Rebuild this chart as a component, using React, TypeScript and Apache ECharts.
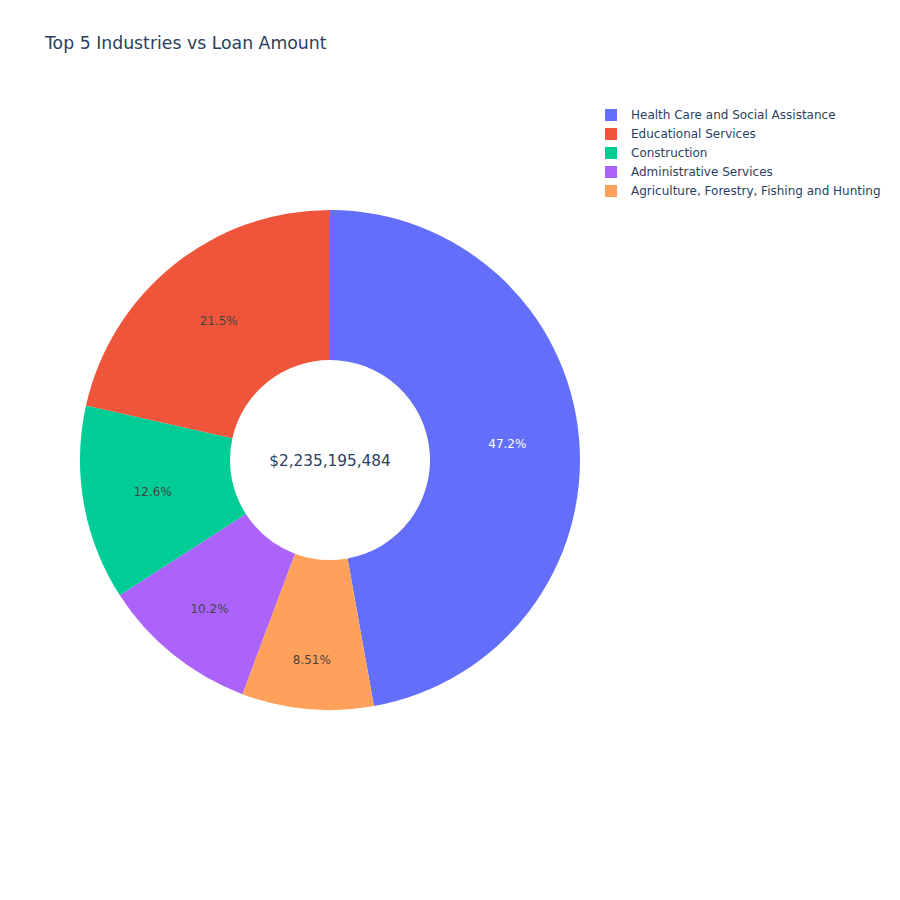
import React, { useEffect, useRef } from "react";
import * as echarts from "echarts";

const categories = [
  "Health Care and Social Assistance",
  "Educational Services",
  "Construction",
  "Administrative Services",
  "Agriculture, Forestry, Fishing and Hunting",
];
const loanAmounts = [1054788749, 480567029, 281634631, 227989939, 190215136];
const colors = ["#636efa", "#EF553B", "#00cc96", "#ab63fa", "#FFA15A"];
const labelColors = ["#ffffff", "#444444", "#444444", "#444444", "#444444"];
// order in which slices are laid out clockwise from 12 o'clock
const sliceOrder = [0, 4, 3, 2, 1];

const FONT = '"DejaVu Sans", verdana, arial, sans-serif';
const CX = 330;
const CY = 460;

export default function App() {
  const ref = useRef<HTMLDivElement>(null);
  useEffect(() => {
    if (!ref.current) return;
    const chart = echarts.init(ref.current, null, { renderer: "svg" });
    const total = loanAmounts.reduce((a, b) => a + b, 0);
    const sliceData = sliceOrder.map((i) => ({
      name: categories[i],
      value: loanAmounts[i],
      itemStyle: { color: colors[i] },
      label: { color: labelColors[i] },
    }));
    chart.setOption({
      animation: false,
      backgroundColor: "#ffffff",
      textStyle: { fontFamily: FONT },
      title: {
        text: "Top 5 Industries vs Loan Amount",
        left: 45,
        top: 34,
        padding: 0,
        textStyle: { fontFamily: FONT, fontSize: 17.3, fontWeight: "normal", color: "#2a3f5f" },
      },
      legend: {
        orient: "vertical",
        left: 605,
        top: 109,
        padding: 0,
        itemWidth: 12,
        itemHeight: 12,
        itemGap: 7,
        icon: "rect",
        textStyle: { fontFamily: FONT, fontSize: 12, color: "#2a3f5f", padding: [0, 0, 0, 9] },
        data: categories,
      },
      graphic: [
        {
          type: "text",
          x: CX,
          y: 461,
          style: {
            text: "$" + total.toLocaleString("en-US"),
            fontFamily: FONT,
            fontSize: 15.3,
            fill: "#2a3f5f",
            textAlign: "center",
            textVerticalAlign: "middle",
          },
        },
      ],
      series: [
        {
          type: "pie",
          center: [CX, CY],
          radius: [100, 250],
          startAngle: 90,
          clockwise: true,
          avoidLabelOverlap: false,
          emphasis: { disabled: true },
          label: {
            show: true,
            position: "inside",
            fontFamily: FONT,
            fontSize: 12,
            formatter: (p: any) => Number(((p.value / total) * 100).toPrecision(3)) + "%",
          },
          labelLine: { show: false },
          labelLayout: (params: any) => {
            const frac = sliceData[params.dataIndex].value / total;
            const shift = Math.max(0, (0.13 - frac) * 500);
            const r = params.labelRect;
            const lx = r.x + r.width / 2;
            const ly = r.y + r.height / 2;
            const dx = lx - CX;
            const dy = ly - CY;
            const d = Math.sqrt(dx * dx + dy * dy) || 1;
            return { x: lx + (dx / d) * shift, y: ly + (dy / d) * shift };
          },
          data: sliceData,
        },
      ],
    });
    return () => chart.dispose();
  }, []);
  return (
    <div
      ref={ref}
      style={{ position: "fixed", left: 0, top: 0, width: 900, height: 900 }}
    />
  );
}
